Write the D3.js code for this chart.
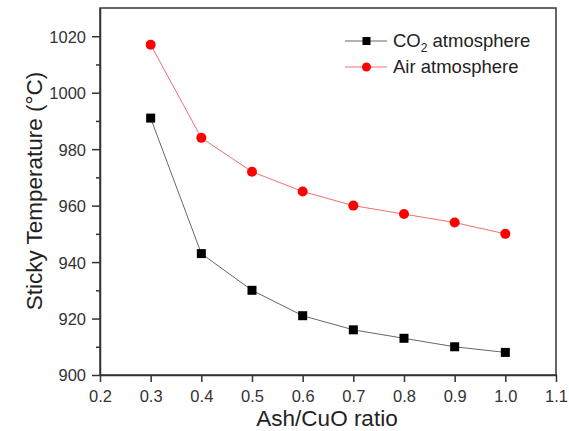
<!DOCTYPE html>
<html><head><meta charset="utf-8">
<script src="https://cdn.jsdelivr.net/npm/d3@7"></script>
<style>body{margin:0;background:#fff}svg{display:block}text{font-family:"Liberation Sans",Arial,sans-serif}</style>
</head><body>
<svg id="c" width="569" height="431"></svg>
<script>
const ratios = [0.3,0.4,0.5,0.6,0.7,0.8,0.9,1.0];
const co2Temps = [991,943,930,921,916,913,910,908];
const airTemps = [1017,984,972,965,960,957,954,950];
const xTicks = [0.2,0.3,0.4,0.5,0.6,0.7,0.8,0.9,1.0,1.1];
const yTicks = [900,920,940,960,980,1000,1020];

const svg = d3.select("#c");
const L=100,R=556,T=8,B=375;
const x = d3.scaleLinear().domain([0.2,1.1]).range([L,R]);
const y = d3.scaleLinear().domain([900,1030]).range([B,T]);

// frame
svg.append("rect").attr("x",L).attr("y",T).attr("width",R-L).attr("height",B-T)
  .attr("fill","none").attr("stroke","#333").attr("stroke-width",1.5);

const xa = svg.append("g").attr("transform",`translate(0,${B})`)
  .call(d3.axisBottom(x).tickValues(xTicks).tickFormat(d3.format(".1f")).tickSize(7).tickSizeOuter(0));
const ya = svg.append("g").attr("transform",`translate(${L},0)`)
  .call(d3.axisLeft(y).tickValues(yTicks).tickFormat(d3.format("d")).tickSize(8).tickSizeOuter(0));
const yMinor = d3.range(910,1030,20);
svg.append("g").attr("transform",`translate(${L},0)`)
  .call(d3.axisLeft(y).tickValues(yMinor).tickFormat("").tickSize(4).tickSizeOuter(0))
  .select(".domain").remove();
svg.selectAll(".domain").attr("stroke","#333").attr("stroke-width",1.5);
svg.selectAll(".tick line").attr("stroke","#333").attr("stroke-width",1.5);
svg.selectAll(".tick text").attr("font-size",16.5).attr("fill","#333");
xa.selectAll(".tick text").attr("y",27).attr("dy",null);
ya.selectAll(".tick text").attr("x",-14).attr("dy","0.36em");

svg.append("text").attr("x",327).attr("y",426).attr("text-anchor","middle")
  .attr("font-size",22.5).attr("fill","#222").text("Ash/CuO ratio");
svg.append("text").attr("transform",`translate(42,191) rotate(-90)`).attr("text-anchor","middle")
  .attr("font-size",22.5).attr("fill","#222").text("Sticky Temperature (°C)");

const line = d3.line().x((d,i)=>x(ratios[i])).y(d=>y(d));
svg.append("path").datum(co2Temps).attr("d",line).attr("fill","none").attr("stroke","#666").attr("stroke-width",1);
svg.append("path").datum(airTemps).attr("d",line).attr("fill","none").attr("stroke","#f07070").attr("stroke-width",1);

svg.selectAll(".sq").data(co2Temps).enter().append("rect")
  .attr("x",(d,i)=>x(ratios[i])-4.5).attr("y",d=>y(d)-4.5).attr("width",9).attr("height",9).attr("fill","#000");
svg.selectAll(".ci").data(airTemps).enter().append("circle")
  .attr("cx",(d,i)=>x(ratios[i])).attr("cy",d=>y(d)).attr("r",5).attr("fill","#f00");

// legend
const lg = svg.append("g");
lg.append("line").attr("x1",345).attr("x2",387).attr("y1",41).attr("y2",41).attr("stroke","#666");
lg.append("rect").attr("x",362.5).attr("y",37).attr("width",8).attr("height",8).attr("fill","#000");
const t1 = lg.append("text").attr("x",393).attr("y",47).attr("font-size",18.5).attr("fill","#222");
t1.append("tspan").text("CO");
t1.append("tspan").attr("font-size",12).attr("dy",5).text("2");
t1.append("tspan").attr("dy",-5).text(" atmosphere");
lg.append("line").attr("x1",345).attr("x2",387).attr("y1",67).attr("y2",67).attr("stroke","#f07070");
lg.append("circle").attr("cx",366.5).attr("cy",67).attr("r",4.5).attr("fill","#f00");
lg.append("text").attr("x",393).attr("y",73).attr("font-size",18.5).attr("fill","#222").text("Air atmosphere");
</script>
</body></html>
